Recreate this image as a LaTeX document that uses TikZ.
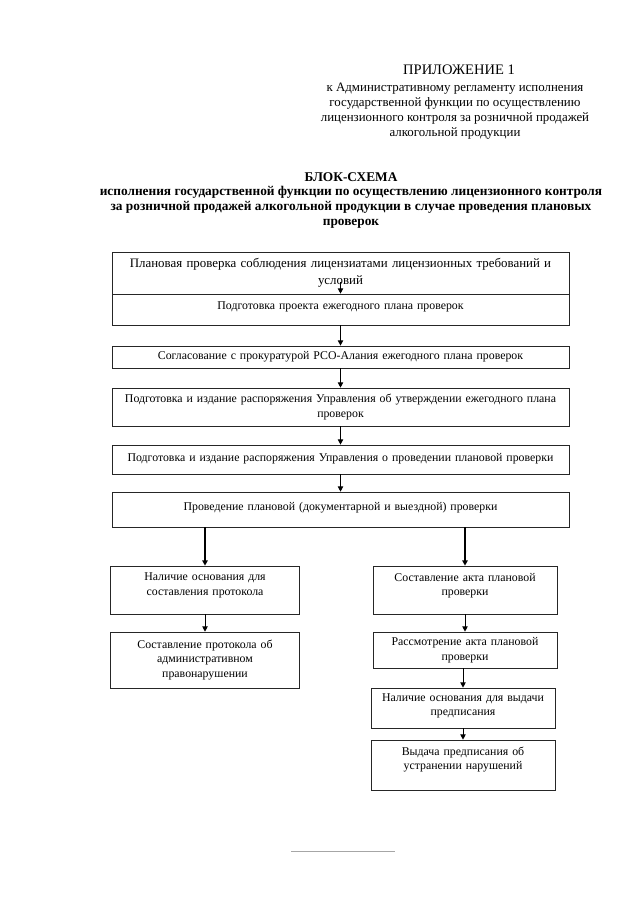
\documentclass[tikz,border=0pt]{standalone}
\usepackage{fontspec}
\setmainfont{Liberation Serif}
\usetikzlibrary{arrows.meta}

\begin{document}
\begin{tikzpicture}[x=0.93pt,y=-0.93pt,line width=0.6pt,
    box/.style={draw=black!85,rectangle,align=center,inner xsep=3pt,inner ysep=2pt,font=\fontsize{11}{13.5}\selectfont},
    wide/.style={box,minimum width=425pt,text width=419pt},
    lbox/.style={box,minimum width=176pt,text width=170pt},
    rbox/.style={box,minimum width=171pt,text width=165pt},
    arr/.style={-{Triangle[length=5pt,width=5pt]},line width=0.9pt}]
  \useasboundingbox (0,0) rectangle (640,905);
  \node[font=\fontsize{13.5}{16}\selectfont] (app) at (459,70) {ПРИЛОЖЕНИЕ 1};
  \node[anchor=north,align=center,font=\fontsize{12}{13.7}\selectfont,inner sep=0pt] (reg) at (455,83)
    {к Административному регламенту исполнения\\государственной функции по осуществлению\\лицензионного контроля за розничной продажей\\алкогольной продукции};
  \node[anchor=north,align=center,font=\fontsize{12.4}{13.7}\bfseries,inner sep=0pt] (ttl) at (351,172)
    {БЛОК-СХЕМА\\исполнения государственной функции по осуществлению лицензионного контроля\\за розничной продажей алкогольной продукции в случае проведения плановых\\проверок};

  \node[wide,minimum height=39pt,font=\fontsize{12}{15.5}\selectfont] (b1) at (340.5,273) {Плановая проверка соблюдения лицензиатами лицензионных требований и\\условий};
  \node[wide,minimum height=28.8pt,text depth=7.5pt] (b2) at (340.5,309.5) {Подготовка проекта ежегодного плана проверок};
  \node[wide,minimum height=20.5pt] (b3) at (340.5,357) {Согласование с прокуратурой РСО-Алания ежегодного плана проверок};
  \node[wide,minimum height=35.3pt] (b4) at (340.5,407) {Подготовка и издание распоряжения Управления об утверждении ежегодного плана\\проверок};
  \node[wide,minimum height=27pt,text depth=3.5pt] (b5) at (340.5,459.5) {Подготовка и издание распоряжения Управления о проведении плановой проверки};
  \node[wide,minimum height=32.5pt,text depth=6.5pt] (b6) at (340.5,509.5) {Проведение плановой (документарной и выездной) проверки};

  \node[lbox,minimum height=44.6pt,text depth=24pt] (l1) at (205,590) {Наличие основания для\\составления протокола};
  \node[lbox,minimum height=52pt] (l2) at (205,660) {Составление протокола об\\административном\\правонарушении};

  \node[rbox,minimum height=44.6pt,text depth=24pt] (r1) at (465,590) {Составление акта плановой\\проверки};
  \node[rbox,minimum height=33.5pt] (r2) at (465,650) {Рассмотрение акта плановой\\проверки};
  \node[rbox,minimum height=37.2pt,text depth=20pt] (r3) at (463,708) {Наличие основания для выдачи\\предписания};
  \node[rbox,minimum height=46.5pt,text depth=26pt] (r4) at (463,765) {Выдача предписания об\\устранении нарушений};

  \draw[arr] ([yshift=11pt]b1.south) -- (b2.north);
  \draw[arr] (b2) -- (b3);
  \draw[arr] (b3) -- (b4);
  \draw[arr] (b4) -- (b5);
  \draw[arr] (b5) -- (b6);
  \draw[arr,line width=1.3pt] (b6.south -| l1.north) -- (l1.north);
  \draw[arr,line width=1.3pt] (b6.south -| r1.north) -- (r1.north);
  \draw[arr] (l1) -- (l2);
  \draw[arr] (r1) -- (r2);
  \draw[arr] (r2.south -| r3.north) -- (r3.north);
  \draw[arr] (r3) -- (r4);

  \draw[black!35,line width=0.8pt] (291,851) -- (395,851);
\end{tikzpicture}
\end{document}
